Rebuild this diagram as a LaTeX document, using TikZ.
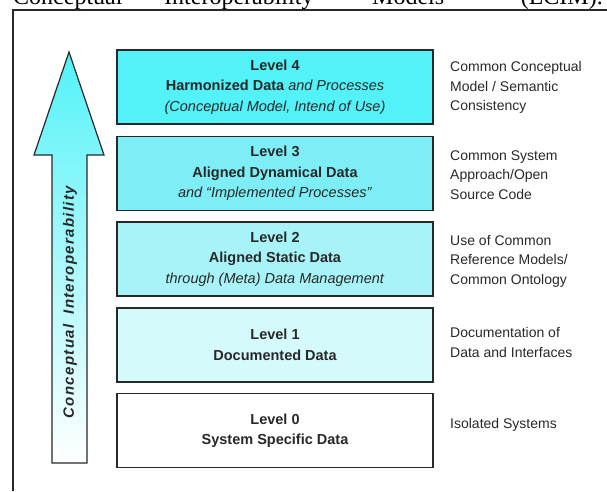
\documentclass[tikz,border=0pt]{standalone}
\usepackage{fontspec}
\setmainfont{Liberation Sans}
\newfontfamily\serifhead{Liberation Serif}
\definecolor{lvfour}{RGB}{82,242,248}
\definecolor{lvthree}{RGB}{125,238,245}
\definecolor{lvtwo}{RGB}{168,243,248}
\definecolor{lvone}{RGB}{212,250,252}
\definecolor{ink}{RGB}{40,40,40}
\begin{document}
\begin{tikzpicture}[x=1pt,y=-1pt,
  levelbox/.style={draw=ink, line width=1.4pt, minimum width=316pt,
    minimum height=74pt, align=center, text=ink, inner sep=0pt,
    font=\fontsize{14.5}{20.5}\selectfont},
  note/.style={anchor=west, align=left, text=ink, inner sep=0pt,
    font=\fontsize{14}{19.5}\selectfont},
  headword/.style={anchor=base west, inner sep=0pt, text=black,
    font=\serifhead\fontsize{24}{28}\selectfont}]
\useasboundingbox (0,0) rectangle (607,491);
\clip (0,0) rectangle (607,491);

% running text line above the figure frame
\node[headword] (w1) at (13,4) {Conceptual};
\node[headword] (w2) at (164,4) {Interoperability};
\node[headword] (w3) at (372,4) {Models};
\node[headword, anchor=base east] (w4) at (603,4) {(LCIM).};

% figure frame
\draw[ink, line width=1.5pt] (13,491) -- (13,10) -- (610,10);

% rising arrow with gradient fill
\draw[ink, line width=1.2pt, top color=lvfour, bottom color=white]
  (69,52) -- (104,155) -- (87,155) -- (87,463) -- (52,463) -- (52,155)
  -- (34,155) -- cycle;
\node[rotate=90, text=ink, inner sep=0pt,
  font=\fontsize{15}{18}\selectfont\bfseries\itshape\addfontfeature{LetterSpace=9}]
  (axis) at (70,302) {Conceptual\hspace{10pt}Interoperability};

% level boxes
\node[levelbox, fill=lvfour] (l4) at (275,87)
  {{\bfseries Level 4}\\{\bfseries Harmonized Data} \textit{and Processes}\\\textit{(Conceptual Model, Intend of Use)}};
\node[levelbox, fill=lvthree] (l3) at (275,173.5)
  {{\bfseries Level 3}\\{\bfseries Aligned Dynamical Data}\\\textit{and “Implemented Processes”}};
\node[levelbox, fill=lvtwo] (l2) at (275,259)
  {{\bfseries Level 2}\\{\bfseries Aligned Static Data}\\\textit{through (Meta) Data Management}};
\node[levelbox, fill=lvone] (l1) at (275,345)
  {{\bfseries Level 1}\\{\bfseries Documented Data}};
\node[levelbox, fill=white] (l0) at (275,430.5)
  {{\bfseries Level 0}\\{\bfseries System Specific Data}};

% descriptions beside the boxes
\node[note] (n4) at (450,87.5) {Common Conceptual\\Model / Semantic\\Consistency};
\node[note] (n3) at (450,175) {Common System\\Approach/Open\\Source Code};
\node[note] (n2) at (450,261) {Use of Common\\Reference Models/\\Common Ontology};
\node[note] (n1) at (450,342.5) {Documentation of\\Data and Interfaces};
\node[note] (n0) at (450,425) {Isolated Systems};
\end{tikzpicture}
\end{document}
